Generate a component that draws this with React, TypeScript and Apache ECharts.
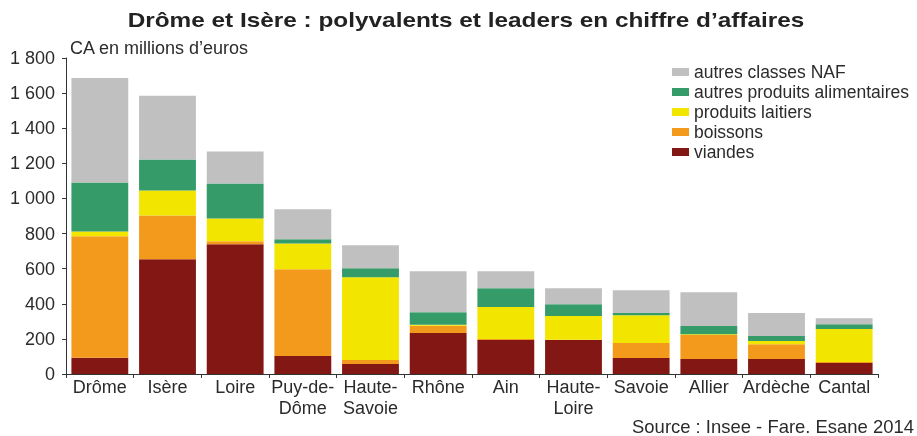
import React, { useEffect, useRef } from "react";
import * as echarts from "echarts";

const categories = ["Drôme", "Isère", "Loire", "Puy-de-\nDôme", "Haute-\nSavoie", "Rhône", "Ain", "Haute-\nLoire", "Savoie", "Allier", "Ardèche", "Cantal"];
const viandes = [93, 653, 739, 102, 57, 233, 193, 193, 91, 85, 85, 63];
const boissons = [691, 250, 17, 495, 23, 42, 7, 2, 85, 137, 85, 5];
const produitsLaitiers = [28, 142, 130, 147, 471, 5, 181, 135, 159, 5, 18, 188];
const autresAlimentaires = [279, 177, 199, 23, 51, 72, 108, 68, 12, 46, 28, 28];
const autresNAF = [595, 363, 182, 171, 131, 233, 96, 91, 130, 193, 131, 34];

const seriesNames = ["viandes", "boissons", "produits laitiers", "autres produits alimentaires", "autres classes NAF"];
const seriesColors = ["#821713", "#f39a1d", "#f2e600", "#349b69", "#c0c0c0"];
const yTicks = [0, 200, 400, 600, 800, 1000, 1200, 1400, 1600, 1800];

const FONT = "Liberation Sans, Arial, sans-serif";
const TXT = "#2b2b2b";

export default function App() {
  const ref = useRef<HTMLDivElement>(null);
  useEffect(() => {
    if (!ref.current) return;
    document.body.style.margin = "0";
    document.body.style.overflow = "hidden";
    const chart = echarts.init(ref.current, null, { renderer: "svg" });
    const data = [viandes, boissons, produitsLaitiers, autresAlimentaires, autresNAF];
    chart.setOption({
      animation: false,
      textStyle: { fontFamily: FONT },
      legend: {
        data: seriesNames.slice().reverse(),
        orient: "vertical",
        left: 672,
        top: 63,
        padding: 0,
        itemWidth: 17,
        itemHeight: 8,
        itemGap: 2,
        icon: "rect",
        textStyle: { fontFamily: FONT, fontSize: 17.5, color: TXT, padding: [0, 0, 0, 0] },
      },
      graphic: [
        {
          type: "text",
          x: 466,
          y: 20,
          scaleX: 1.16,
          style: {
            text: "Drôme et Isère : polyvalents et leaders en chiffre d’affaires",
            font: `bold 21px ${FONT}`,
            fill: "#222",
            align: "center",
            verticalAlign: "middle",
          },
        },
        {
          type: "text",
          x: 70,
          y: 48,
          style: { text: "CA en millions d’euros", font: `18px ${FONT}`, fill: TXT, align: "left", verticalAlign: "middle" },
        },
        {
          type: "text",
          x: 914,
          y: 427,
          scaleX: 1.025,
          style: { text: "Source : Insee - Fare. Esane 2014", font: `18px ${FONT}`, fill: TXT, align: "right", verticalAlign: "middle" },
        },
      ],
      grid: { left: 66, right: 39, top: 58, bottom: 62, containLabel: false },
      xAxis: {
        type: "category",
        data: categories,
        axisLine: { lineStyle: { color: "#333", width: 1 } },
        axisTick: { show: true, length: 4, lineStyle: { color: "#333" } },
        axisLabel: { fontFamily: FONT, fontSize: 18, color: TXT, margin: 2, lineHeight: 21, interval: 0 },
      },
      yAxis: {
        type: "value",
        min: 0,
        max: 1800,
        interval: 200,
        splitLine: { show: false },
        axisLine: { show: true, lineStyle: { color: "#333", width: 1 } },
        axisTick: { show: true, length: 4, lineStyle: { color: "#333" } },
        axisLabel: {
          fontFamily: FONT,
          fontSize: 18,
          color: TXT,
          margin: 11,
          formatter: (v: number) => (yTicks.includes(v) ? String(v).replace(/\B(?=(\d{3})+(?!\d))/g, " ") : ""),
        },
      },
      series: seriesNames.map((name, i) => ({
        name,
        type: "bar",
        stack: "total",
        barWidth: "84%",
        data: data[i],
        itemStyle: { color: seriesColors[i] },
      })),
    });
    return () => chart.dispose();
  }, []);
  return <div ref={ref} style={{ position: "fixed", left: 0, top: 0, width: 917, height: 436 }} />;
}
